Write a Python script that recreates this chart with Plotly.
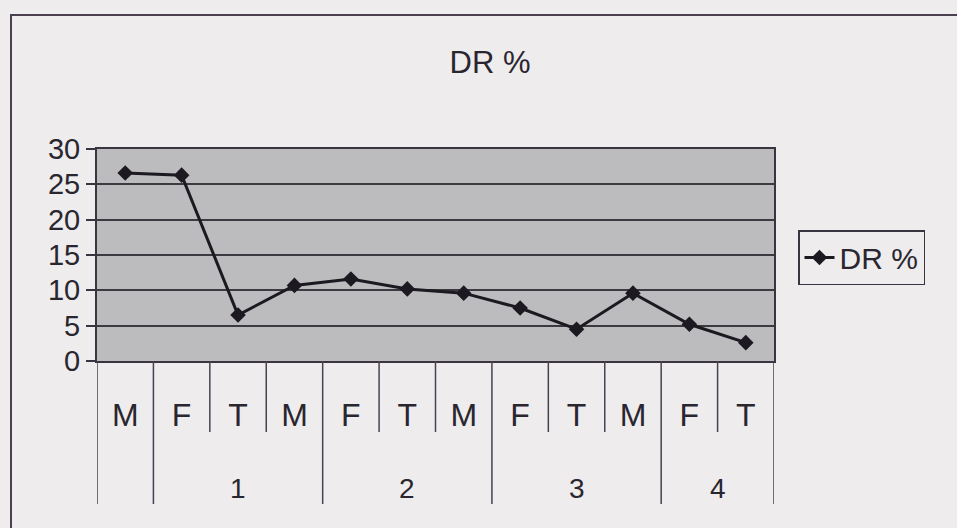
import plotly.graph_objects as go

groups = ["", "1", "1", "1", "2", "2", "2", "3", "3", "3", "4", "4"]
subs = ["M", "F", "T", "M", "F", "T", "M", "F", "T", "M", "F", "T"]
dr_values = [26.6, 26.3, 6.5, 10.7, 11.6, 10.2, 9.6, 7.5, 4.5, 9.6, 5.2, 2.6]
y_ticks = [0, 5, 10, 15, 20, 25, 30]

W, H = 957, 528
L, R, T, B = 97, 183, 149, 167
pw, ph = W - L - R, H - T - B

n = len(subs)
xs = list(range(n))

# group boundaries and centres derived from the group labels
group_bounds = [-0.5]
for i in range(1, n):
    if groups[i] != groups[i - 1]:
        group_bounds.append(i - 0.5)
group_bounds.append(n - 0.5)
group_names, group_centres = [], []
for a, b in zip(group_bounds[:-1], group_bounds[1:]):
    group_names.append(groups[int(a + 0.5)])
    group_centres.append((a + b) / 2)
inner_bounds = [i - 0.5 for i in range(1, n) if (i - 0.5) not in group_bounds]

ink = "#2a2630"
edge = "#4a4050"
font = "Liberation Sans, Arial, sans-serif"

fig = go.Figure()
fig.add_trace(go.Scatter(
    x=xs, y=dr_values, name="DR %",
    mode="lines+markers",
    line=dict(color="#1c1a20", width=3),
    marker=dict(symbol="diamond", size=12, color="#1c1a20"),
))

fig.update_layout(
    width=W, height=H,
    margin=dict(l=L, r=R, t=T, b=B),
    paper_bgcolor="#eeeced",
    plot_bgcolor="#bcbbbd",
    font=dict(family=font, color=ink),
    title=dict(text="DR %", x=490 / W, xref="container", xanchor="center",
               y=1 - 62 / H, yref="container", yanchor="middle",
               font=dict(size=31, color=ink)),
    showlegend=True,
    legend=dict(x=(798 - L) / pw, xanchor="left", y=(H - B - 230) / ph, yanchor="top",
                bordercolor="#3a3440", borderwidth=1.5, bgcolor="rgba(0,0,0,0)",
                font=dict(size=30, color=ink)),
    xaxis=dict(range=[-0.5, n - 0.5], tickmode="array", tickvals=xs, ticktext=subs,
               ticks="", ticklabelstandoff=25,
               showgrid=False, zeroline=False,
               showline=True, linecolor="#3a3440", linewidth=2, mirror=True,
               tickfont=dict(size=32, color=ink)),
    yaxis=dict(range=[0, 30], tickvals=y_ticks, ticks="outside", ticklen=9,
               tickwidth=1.5, tickcolor="#3a3440",
               showgrid=True, gridcolor="#3c3a40", gridwidth=1.5,
               showline=True, linecolor="#3a3440", linewidth=2, mirror=True,
               zeroline=False, tickfont=dict(size=29, color=ink)),
)

# short separators between sub-categories
for bx in inner_bounds:
    fig.add_shape(type="line", xref="x", yref="paper", x0=bx, x1=bx,
                  y0=0, y1=-71 / ph, line=dict(color=edge, width=1.5))

# long group divider lines
for bx in group_bounds:
    fig.add_shape(type="line", xref="x", yref="paper", x0=bx, x1=bx,
                  y0=0, y1=-143 / ph, line=dict(color=edge, width=1.5))

# group labels
for name, cx in zip(group_names, group_centres):
    if name:
        fig.add_annotation(x=cx, xref="x", y=-127 / ph, yref="paper",
                           text=name, showarrow=False, yanchor="middle",
                           font=dict(size=28, color=ink))

# outer chart frame
fig.add_shape(type="rect", xref="paper", yref="paper",
              x0=(11 - L) / pw, x1=(W + 20 - L) / pw,
              y0=-(B + 20) / ph, y1=(H - B - 15) / ph,
              line=dict(color=edge, width=2), fillcolor="rgba(0,0,0,0)", layer="below")

fig.write_html("out.html", config={"displayModeBar": False},
               post_script="document.body.style.margin='0px';")
